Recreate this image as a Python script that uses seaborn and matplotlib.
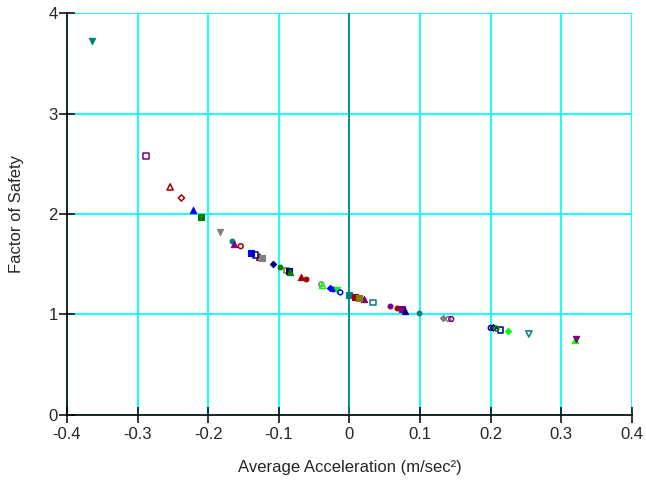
import matplotlib
matplotlib.use("Agg")
import matplotlib.pyplot as plt
import seaborn as sns
import pandas as pd

# ---- data ----
accel = [-0.364, -0.288, -0.254, -0.238, -0.221, -0.210, -0.183, -0.166, -0.163, -0.154,
         -0.139, -0.133, -0.124, -0.127, -0.108, -0.099, -0.089, -0.086, -0.084, -0.068,
         -0.061, -0.040, -0.038, -0.028, -0.024, -0.018, -0.013, -0.001, 0.008, 0.014,
         0.021, 0.033, 0.057, 0.067, 0.074, 0.079, 0.099, 0.132, 0.140, 0.144,
         0.200, 0.204, 0.208, 0.214, 0.224, 0.254, 0.319, 0.321]
fos = [3.72, 2.58, 2.27, 2.16, 2.04, 1.97, 1.82, 1.73, 1.70, 1.68,
       1.61, 1.59, 1.56, 1.57, 1.50, 1.47, 1.44, 1.43, 1.42, 1.37,
       1.35, 1.30, 1.29, 1.26, 1.25, 1.24, 1.22, 1.19, 1.17, 1.16,
       1.15, 1.12, 1.08, 1.06, 1.05, 1.03, 1.01, 0.965, 0.955, 0.955,
       0.866, 0.866, 0.860, 0.846, 0.836, 0.806, 0.746, 0.756]
series = ["teal_v", "purple_sq_o", "red_tri_o", "red_dia_o", "blue_tri", "green_sq", "gray_v", "teal_circ", "purple_tri", "red_circ_o",
          "blue_sq", "navy_sq_o", "gray_sq", "red_tri_o", "navy_dia", "green_circ", "olive_sq_o", "navy_sq", "green_tri", "red_tri",
          "red_circ", "gray_circ_o", "lime_tri_o", "blue_dia", "blue_circ", "lime_v", "blue_circ_o", "teal_sq", "red_sq", "olive_sq",
          "purple_tri", "teal_sq_o", "purple_circ", "red_circ", "purple_sq", "navy_tri", "teal_circ", "gray_dia", "gray_circ_o", "purple_circ_o",
          "navy_circ_o", "navy_dia_o", "green_circ_o", "navy_sq_o", "lime_dia", "teal_v_o", "lime_tri", "purple_v"]

# ---- styles ----
COL = {"teal": "#008080", "purple": "#800080", "red": "#A00000", "blue": "#0000FF",
       "green": "#008000", "gray": "#808080", "navy": "#000080", "olive": "#808000",
       "lime": "#00FF00"}
MK = {"v": "v", "sq": "s", "tri": "^", "dia": "D", "circ": "o"}
SIZE = {"v": 20, "sq": 16, "tri": 20, "dia": 10, "circ": 12}


def style_of(key):
    parts = key.split("_")
    color = COL[parts[0]]
    mk = MK[parts[1]]
    filled = not (len(parts) > 2 and parts[2] == "o")
    return mk, color, filled, SIZE[parts[1]]


df = pd.DataFrame({"accel": accel, "fos": fos, "series": series})

sns.set_style("white")
plt.rcParams["font.family"] = ["Liberation Sans", "DejaVu Sans"]

fig = plt.figure(figsize=(6.46, 4.87), dpi=100)
ax = fig.add_axes([0.1037, 0.148, 0.8746, 0.825])

ax.set_xlim(-0.4, 0.4)
ax.set_ylim(0, 4)
ax.set_xticks([-0.4, -0.3, -0.2, -0.1, 0, 0.1, 0.2, 0.3, 0.4])
ax.set_xticklabels(["-0.4", "-0.3", "-0.2", "-0.1", "0", "0.1", "0.2", "0.3", "0.4"])
ax.set_yticks([0, 1, 2, 3, 4])
ax.grid(True, color="#00FFFF", linewidth=1.3, zorder=0)
ax.set_axisbelow(True)
ax.axvline(0, color="#008080", linewidth=1.2, zorder=1)

for key, sub in df.groupby("series", sort=False):
    mk, color, filled, size = style_of(key)
    if filled:
        sns.scatterplot(data=sub, x="accel", y="fos", marker=mk, color=color,
                        edgecolor=color, s=size, linewidth=0.8, ax=ax, zorder=3)
    else:
        sns.scatterplot(data=sub, x="accel", y="fos", marker=mk, color=color,
                        facecolor="none", edgecolor=color, s=size, linewidth=1.1,
                        ax=ax, zorder=3)

for side in ["top", "right"]:
    ax.spines[side].set_visible(False)
for side in ["left", "bottom"]:
    ax.spines[side].set_color("black")
    ax.spines[side].set_linewidth(1.2)
    ax.spines[side].set_zorder(4)

ax.tick_params(axis="both", direction="inout", length=11, width=1.1, color="black",
               labelsize=12, bottom=True, left=True)
ax.tick_params(axis="x", pad=3)
ax.tick_params(axis="y", pad=1)
ax.set_xlabel("Average Acceleration (m/sec²)", fontsize=12, labelpad=13)
ax.set_ylabel("Factor of Safety", fontsize=12, labelpad=18)

fig.savefig("out.png", dpi=100)
